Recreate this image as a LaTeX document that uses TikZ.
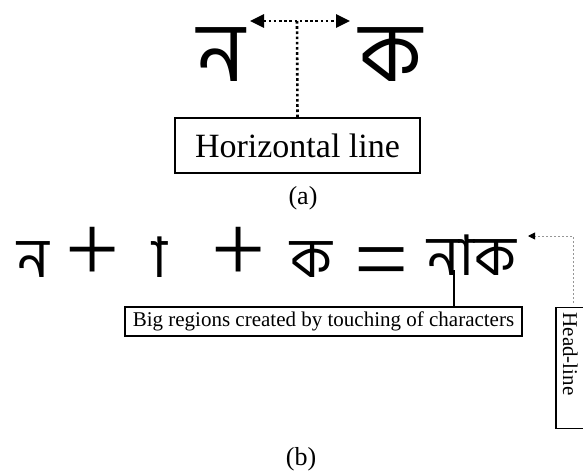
\documentclass[tikz,border=0pt]{standalone}
\usepackage{fontspec}
\setmainfont{Liberation Serif}
\newfontfamily\bengfont[Script=Bengali]{Hind Siliguri}
\usetikzlibrary{arrows.meta, positioning}
\definecolor{hlgray}{RGB}{150,150,150}
% a vowel sign set on its own, without a dotted circle
\newcommand{\aakar}{\XeTeXglyph\XeTeXcharglyph"09BE\relax}
\tikzset{
  bigglyph/.style={inner sep=0pt, anchor=base, font=\bengfont\fontsize{84}{84}\selectfont},
  smallglyph/.style={inner sep=0pt, anchor=base, font=\bengfont\fontsize{56}{56}\selectfont},
  opsym/.style={inner sep=0pt, anchor=base, font=\fontsize{96}{96}\selectfont},
  labelbox/.style={rectangle, draw, line width=1.6pt, inner sep=0pt},
  dotline/.style={line width=2.6pt, dash pattern=on 2.6pt off 2.6pt},
  dotarrow/.style={dotline, {Triangle[length=14pt,width=13pt]}-{Triangle[length=14pt,width=13pt]}},
  headarrow/.style={hlgray, line width=0.9pt, dash pattern=on 2pt off 2pt,
    -{Triangle[length=7pt,width=7pt,black]}},
  linker/.style={line width=1.4pt}
}

\begin{document}
\begin{tikzpicture}[x=1pt, y=-1pt]
  \useasboundingbox (0,0) rectangle (583,472);

  % (a) two letters and their head line
  \node[bigglyph] (na) at (221,81) {ন};
  \node[bigglyph] (ka) at (391,81) {ক};
  \coordinate (hlmid) at (297,21);
  \coordinate (hlleft) at (250,21);
  \coordinate (hlright) at (350,21);
  \draw[dotarrow] (hlleft) -- (hlright);
  \node[labelbox, minimum width=245pt, minimum height=55pt,
    font=\fontsize{34}{36}\selectfont] (hbox) at (297.5,145.5) {Horizontal line};
  \draw[dotline] (hlmid) -- (hbox.north);
  \node[font=\fontsize{26}{28}\selectfont] (capa) at (303,198) {(a)};

  % (b) letters touching each other
  \node[smallglyph] (na2) at (33,277) {ন};
  \node[opsym] (plus1) at (93,281) {+};
  \node[smallglyph] (aa) at (160,277) {\aakar};
  \node[opsym] (plus2) at (239,281) {+};
  \node[smallglyph] (ka2) at (311,277) {ক};
  \node[opsym] (eq) at (382,291) {=};
  \node[smallglyph] (nak) at (472,275) {নাক};

  \coordinate (touch) at (454,270);
  \node[labelbox, minimum width=397pt, minimum height=29pt,
    font=\fontsize{21}{23}\selectfont] (bigbox) at (323.5,321.5)
    {Big regions created by touching of characters};
  \draw[linker] (touch) -- (touch |- bigbox.north);

  % head-line label on the right
  \node[labelbox, line width=1.2pt, rotate=-90, anchor=west, text width=111pt,
    inner xsep=5pt, inner ysep=2pt, text height=25pt, text depth=5pt, align=left,
    font=\fontsize{21}{23}\selectfont] (headbox) at (573,307) {Head-line};
  \coordinate (hltip) at (528,236);
  \draw[headarrow, shorten <=4pt] (headbox.west) |- (hltip);

  \node[font=\fontsize{26}{28}\selectfont] (capb) at (301,459) {(b)};
\end{tikzpicture}
\end{document}
